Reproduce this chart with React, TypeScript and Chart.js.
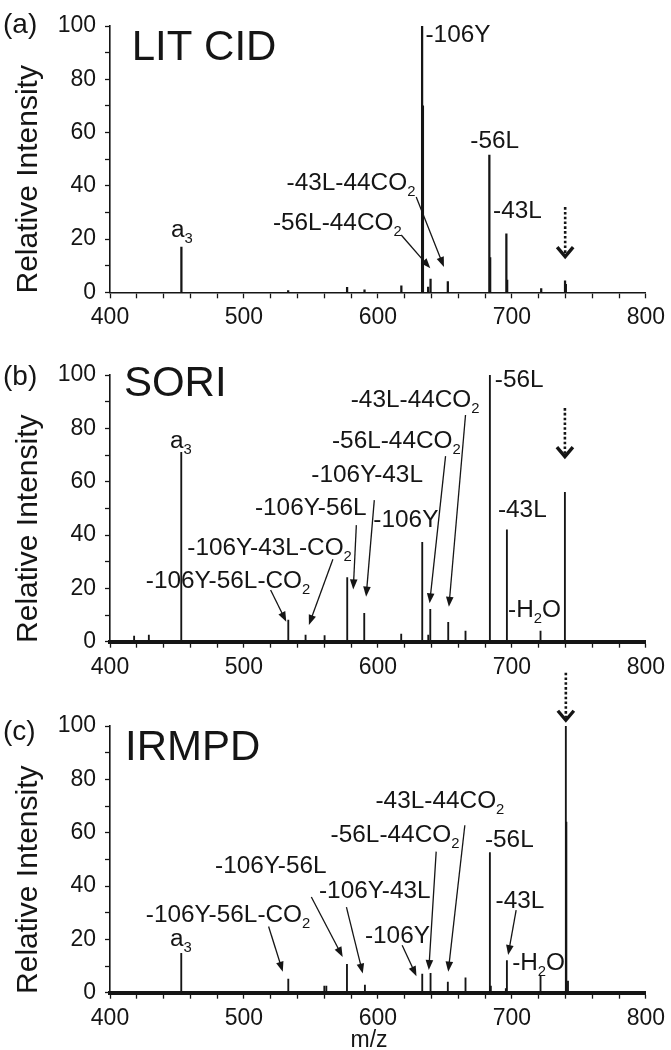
import React, { useEffect, useRef } from 'react';
import { Chart, registerables } from 'chart.js';
Chart.register(...registerables);

const FONT = "'Liberation Sans', Arial, Helvetica, sans-serif";
const INK = '#151515';

// ---------- Data (m/z and relative intensity of each peak) ----------
// (a) LIT CID
const mzA = [453.3, 533, 577, 590, 617.5, 633, 633.6, 637.5, 639.3, 652.2, 683.2, 683.8, 695.9, 696.5, 721.9, 739.7, 740.3];
const intA = [17, 0.6, 1.9, 0.9, 2.4, 100, 70, 2, 5, 4, 51.5, 13, 22, 4.6, 1.4, 4.3, 3];
// (b) SORI
const mzB = [418, 429, 453.2, 533.1, 546, 560.2, 577.1, 589.8, 617.4, 633.1, 637.6, 639.1, 652.5, 665.4, 683.6, 696.3, 721.4, 739.6];
const intB = [2.1, 2.5, 71, 8.1, 2.5, 2.3, 24, 10.6, 2.9, 37.3, 2.5, 12.1, 7.3, 4, 100, 41.9, 4, 56];
// (c) IRMPD
const mzC = [453.2, 533.1, 560, 561.5, 576.9, 590.3, 633.1, 639.3, 652.2, 665.4, 683.6, 684.3, 695.5, 696.3, 721.4, 740.3, 740.7, 741.9];
const intC = [14.8, 5.1, 2.5, 2.5, 10.6, 2.9, 7, 7.3, 4, 5.6, 52.5, 2.5, 1.5, 12, 6.4, 100, 64, 4.4];

// Axis ticks
const xMin = 400, xMax = 800, xStep = 20, xLabelEvery = 100;
const yMin = 0, yMax = 100, yStep = 10, yLabelEvery = 20;

// ---------- Annotations: [text, m/z (left edge), intensity (baseline)] ; "_" marks a subscript char ----------
const labelsA: [string, number, number][] = [
  ['-106Y', 635.5, 94],
  ['-56L', 669, 54.1],
  ['-43L', 686, 27.9],
  ['a_3', 445.5, 20.6],
  ['-43L-44CO_2', 531.8, 38.4],
  ['-56L-44CO_2', 521.6, 23.4],
];
const arrowsA: [number, number, number, number][] = [
  [628.6, 35.8, 649.3, 9.5],
  [617.4, 21.5, 639.1, 9],
];
const labelsB: [string, number, number][] = [
  ['-56L', 687.3, 95.6],
  ['-43L-44CO_2', 579.7, 88.1],
  ['-56L-44CO_2', 565.7, 72.5],
  ['-106Y-43L', 550.3, 60],
  ['-106Y-56L', 508.2, 47.5],
  ['-106Y', 596.6, 43.1],
  ['-106Y-43L-CO_2', 457.7, 32.5],
  ['-106Y-56L-CO_2', 426.7, 20],
  ['-43L', 689.6, 46.9],
  ['-H_2O', 697.2, 9.4],
  ['a_3', 444.8, 72.6],
];
const arrowsB: [number, number, number, number][] = [
  [665.4, 85, 653, 13.1],
  [650.5, 69.6, 638.6, 14.4],
  [597.3, 53.1, 591.2, 16.9],
  [583.9, 43.7, 581.6, 19.6],
  [566.4, 30.9, 548.5, 6.3],
  [519.9, 19.4, 531.6, 7.5],
];
const labelsC: [string, number, number][] = [
  ['-43L-44CO_2', 598.2, 69.3],
  ['-56L-44CO_2', 564.7, 56.6],
  ['-56L', 679.9, 54.7],
  ['-106Y-56L', 478.4, 44.8],
  ['-106Y-43L', 556, 35.4],
  ['-43L', 687.8, 31.6],
  ['-106Y-56L-CO_2', 426.7, 26.6],
  ['-106Y', 590.3, 18.5],
  ['-H_2O', 700.2, 8.5],
  ['a_3', 444.8, 17.5],
];
const arrowsC: [number, number, number, number][] = [
  [664.9, 62.8, 652.5, 7.9],
  [643.5, 52.9, 638, 8.5],
  [618.1, 17.8, 628.8, 6.2],
  [703.2, 31.0, 697.2, 14.1],
  [576.5, 32.1, 588.7, 7.2],
  [550.3, 35.9, 573.7, 13.4],
  [518.4, 24.8, 529, 7.9],
];

type Panel = {
  letter: string; title: string; titleX: number; titleY: number;
  mz: number[]; inten: number[];
  labels: [string, number, number][]; arrows: [number, number, number, number][];
  precursor: [number, number, number];
  offset: number; h: number; top: number; bottom: number; letterY: number;
  barW: number; baseW: number; xTitle?: boolean;
};

const PANELS: Panel[] = [
  { letter: '(a)', title: 'LIT CID', titleX: 416.2, titleY: 87.2, mz: mzA, inten: intA, labels: labelsA, arrows: arrowsA,
    precursor: [739.8, 32, 12.8], offset: 0, h: 345, top: 26, bottom: 292.3, letterY: 25, barW: 1.6, baseW: 1.6 },
  { letter: '(b)', title: 'SORI', titleX: 410.4, titleY: 92, mz: mzB, inten: intB, labels: labelsB, arrows: arrowsB,
    precursor: [739.6, 87.6, 68.8], offset: 340, h: 345, top: 35, bottom: 301.7, letterY: 37.5, barW: 1.2, baseW: 4 },
  { letter: '(c)', title: 'IRMPD', titleX: 411.2, titleY: 87.3, mz: mzC, inten: intC, labels: labelsC, arrows: arrowsC,
    precursor: [740.3, 120, 101.6], offset: 660, h: 390, top: 66, bottom: 332.7, letterY: 72.5, barW: 1.2, baseW: 4, xTitle: true },
];

const LABEL_SIZE = 23;
const LABEL_STRETCH = 1.06;

function drawRich(ctx: CanvasRenderingContext2D, text: string, x: number, y: number, size: number) {
  const parts: [string, boolean][] = [];
  let buf = '';
  for (let i = 0; i < text.length; i++) {
    if (text[i] === '_') {
      if (buf) parts.push([buf, false]);
      buf = '';
      parts.push([text[i + 1], true]);
      i++;
    } else buf += text[i];
  }
  if (buf) parts.push([buf, false]);
  ctx.save();
  ctx.translate(x, y);
  ctx.scale(LABEL_STRETCH, 1);
  let cx = 0;
  for (const [s, sub] of parts) {
    ctx.font = `${sub ? Math.round(size * 0.6) : size}px ${FONT}`;
    ctx.fillText(s, cx, sub ? size * 0.26 : 0);
    cx += ctx.measureText(s).width;
  }
  ctx.restore();
}

function drawArrow(ctx: CanvasRenderingContext2D, x1: number, y1: number, x2: number, y2: number) {
  const a = Math.atan2(y2 - y1, x2 - x1);
  const L = 10, W = 3.8;
  const c = Math.cos(a), s = Math.sin(a);
  ctx.lineWidth = 1.3;
  ctx.beginPath();
  ctx.moveTo(x1, y1);
  ctx.lineTo(x2 - L * 0.7 * c, y2 - L * 0.7 * s);
  ctx.stroke();
  ctx.beginPath();
  ctx.moveTo(x2, y2);
  ctx.lineTo(x2 - L * c + W * s, y2 - L * s - W * c);
  ctx.lineTo(x2 - L * c - W * s, y2 - L * s + W * c);
  ctx.closePath();
  ctx.fill();
}

function annotationPlugin(p: Panel) {
  return {
    id: 'annot' + p.letter,
    afterDraw(chart: any) {
      const ctx: CanvasRenderingContext2D = chart.ctx;
      const xs = chart.scales.x, ys = chart.scales.y;
      const area = chart.chartArea;
      ctx.save();
      ctx.fillStyle = INK;
      ctx.strokeStyle = INK;
      ctx.textAlign = 'left';
      ctx.textBaseline = 'alphabetic';
      // title
      ctx.font = `42px ${FONT}`;
      ctx.fillText(p.title, xs.getPixelForValue(p.titleX), ys.getPixelForValue(p.titleY));
      // labels
      for (const [t, mx, iy] of p.labels) drawRich(ctx, t, xs.getPixelForValue(mx), ys.getPixelForValue(iy), LABEL_SIZE);
      // arrows
      for (const [a, b, c, d] of p.arrows)
        drawArrow(ctx, xs.getPixelForValue(a), ys.getPixelForValue(b), xs.getPixelForValue(c), ys.getPixelForValue(d));
      // precursor dotted arrow
      const [pm, p1, p2] = p.precursor;
      const px = xs.getPixelForValue(pm);
      const y1 = ys.getPixelForValue(p1), y2 = ys.getPixelForValue(p2);
      ctx.lineWidth = 2.6;
      ctx.setLineDash([2.6, 2.2]);
      ctx.beginPath();
      ctx.moveTo(px, y1);
      ctx.lineTo(px, y2 - 4);
      ctx.stroke();
      ctx.setLineDash([]);
      ctx.lineWidth = 3.4;
      ctx.lineJoin = 'miter';
      ctx.beginPath();
      ctx.moveTo(px - 8, y2 - 11);
      ctx.lineTo(px, y2 - 1.5);
      ctx.lineTo(px + 8, y2 - 11);
      ctx.stroke();
      // panel letter
      ctx.font = `28px ${FONT}`;
      ctx.textBaseline = 'middle';
      ctx.fillText(p.letter, 3, p.letterY);
      // y title
      ctx.save();
      ctx.translate(36.7, area.bottom - 113);
      ctx.rotate(-Math.PI / 2);
      ctx.textAlign = 'center';
      ctx.textBaseline = 'alphabetic';
      ctx.font = `30px ${FONT}`;
      ctx.fillText('Relative Intensity', 0, 0);
      ctx.restore();
      // x title
      if (p.xTitle) {
        ctx.font = `23px ${FONT}`;
        ctx.textAlign = 'center';
        ctx.textBaseline = 'middle';
        ctx.fillText('m/z', 369, 380.5);
      }
      ctx.restore();
    },
  };
}

function makeConfig(p: Panel): any {
  return {
    type: 'bar',
    data: {
      datasets: [{
        data: p.mz.map((m, i) => ({ x: m, y: p.inten[i] })),
        backgroundColor: INK,
        barThickness: p.barW,
        borderWidth: 0,
        grouped: false,
      }],
    },
    options: {
      animation: false,
      responsive: false,
      events: [],
      layout: { padding: { left: 0, right: 24, top: p.top, bottom: 0 } },
      plugins: { legend: { display: false }, tooltip: { enabled: false } },
      scales: {
        x: {
          type: 'linear', min: xMin, max: xMax, offset: false,
          afterFit: (s: any) => { s.height = p.h - p.bottom; },
          ticks: {
            stepSize: xStep, autoSkip: false, maxRotation: 0, minRotation: 0, padding: 6, color: INK,
            font: { family: FONT, size: 23 },
            callback: (v: number) => (v % xLabelEvery === 0 ? String(v) : ''),
          },
          grid: { drawOnChartArea: false, drawTicks: true, tickLength: 6, tickColor: INK, tickWidth: 1.3, offset: false },
          border: { display: true, color: INK, width: p.baseW },
        },
        y: {
          min: yMin, max: yMax,
          afterFit: (s: any) => { s.width = 110; },
          ticks: {
            stepSize: yStep, autoSkip: false, padding: 9, color: INK,
            font: { family: FONT, size: 23 },
            callback: (v: number) => (v % yLabelEvery === 0 ? String(v) : ''),
          },
          grid: { drawOnChartArea: false, drawTicks: true, tickLength: 5, tickColor: INK, tickWidth: 1.3 },
          border: { display: true, color: INK, width: 1.6 },
        },
      },
    },
    plugins: [annotationPlugin(p)],
  };
}

export default function App() {
  const r0 = useRef<HTMLCanvasElement>(null);
  const r1 = useRef<HTMLCanvasElement>(null);
  const r2 = useRef<HTMLCanvasElement>(null);
  const refs = [r0, r1, r2];
  useEffect(() => {
    document.body.style.margin = '0';
    const charts = PANELS.map((p, i) => new Chart(refs[i].current as HTMLCanvasElement, makeConfig(p)));
    return () => charts.forEach((c) => c.destroy());
  }, []);
  return (
    <div style={{ position: 'absolute', left: 0, top: 0, width: 671, height: 1050, background: '#fff' }}>
      {PANELS.map((p, i) => (
        <canvas key={i} ref={refs[i]} width={671} height={p.h}
          style={{ position: 'absolute', left: 0, top: p.offset, width: 671, height: p.h }} />
      ))}
    </div>
  );
}
